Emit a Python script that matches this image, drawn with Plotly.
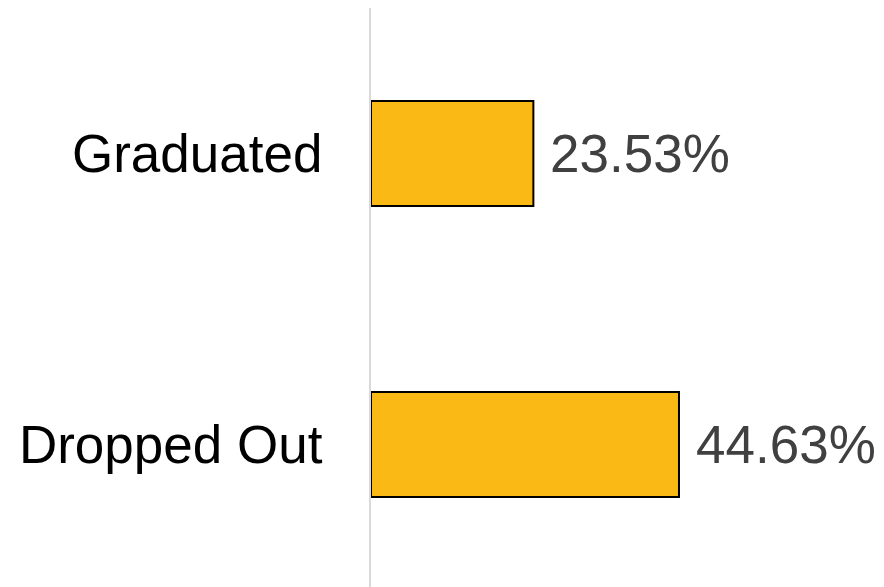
import plotly.graph_objects as go

categories = ["Graduated", "Dropped Out"]
values = [23.53, 44.63]
labels = ["23.53%", "44.63%"]

fig = go.Figure()
fig.add_trace(go.Bar(
    x=values, y=categories, orientation="h",
    marker=dict(color="#FBB916", line=dict(color="#000000", width=2)),
    hoverinfo="skip",
))
for c, v, t in zip(categories, values, labels):
    fig.add_annotation(x=v, y=c, text=t, showarrow=False, xanchor="left",
                       xshift=15, font=dict(family="Liberation Sans, Arial", size=53, color="#404040"))

fig.update_layout(
    width=884, height=587,
    margin=dict(l=363, r=0, t=0, b=5),
    plot_bgcolor="white", paper_bgcolor="white",
    bargap=0.639, showlegend=False,
    font=dict(family="Liberation Sans, Arial", size=53, color="#000000"),
)
fig.update_xaxes(range=[0, 75.5], showgrid=False, zeroline=False, showticklabels=False, showline=False)
fig.update_yaxes(autorange="reversed", showgrid=False, zeroline=False,
                 showline=True, linecolor="#d9d9d9", linewidth=2,
                 ticks="", ticklabelstandoff=36, automargin=False,
                 tickfont=dict(family="Liberation Sans, Arial", size=53, color="#000000"))

fig.write_html("out.html")
